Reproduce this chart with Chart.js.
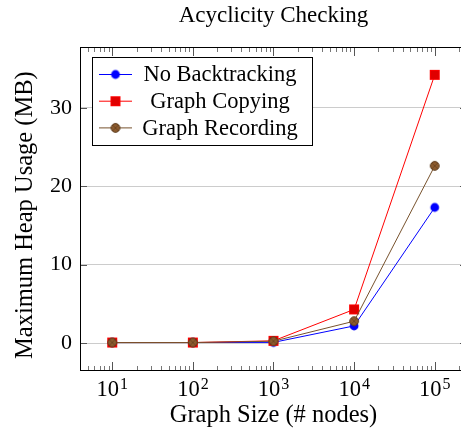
<!DOCTYPE html>
<html>
<head>
<meta charset="utf-8">
<script src="https://cdn.jsdelivr.net/npm/chart.js@4.4.0/dist/chart.umd.min.js"></script>
<style>
html, body { margin: 0; padding: 0; overflow: hidden; background: #fff; }
canvas { display: block; }
</style>
</head>
<body>
<canvas id="heapChart" width="472" height="432"></canvas>
<script>
// ---- data ----
const graphSizes = [10, 100, 1000, 10000, 100000];
const noBacktracking = [0.08, 0.08, 0.1, 2.2, 17.3];
const graphCopying = [0.08, 0.08, 0.3, 4.3, 34.2];
const graphRecording = [0.08, 0.08, 0.25, 2.8, 22.6];
const seriesNames = ["No Backtracking", "Graph Copying", "Graph Recording"];
const xTickValues = [10, 100, 1000, 10000, 100000];
const xTickBase = "10";
const xTickExponents = ["1", "2", "3", "4", "5"];
const yTickValues = [0, 10, 20, 30];

const FONT = "'Liberation Serif', 'Times New Roman', serif";
Chart.defaults.color = "#000";
Chart.defaults.font.family = FONT;
Chart.defaults.font.size = 22;

// small canvases used as marker images (plot + legend)
function makeMarker(kind) {
    const c = document.createElement("canvas");
    c.width = 12;
    c.height = 12;
    const g = c.getContext("2d");
    g.lineWidth = 1;
    if (kind === "circle") {
        g.fillStyle = "#0000ff";
        g.beginPath();
        g.arc(6, 6, 4.4, 0, Math.PI * 2);
        g.fill();
    } else if (kind === "square") {
        g.fillStyle = "#e00000";
        g.strokeStyle = "#ff0000";
        g.fillRect(2, 2, 8, 8);
        g.strokeRect(1.5, 1.5, 9, 9);
    } else {
        g.fillStyle = "#8c5b2e";
        g.strokeStyle = "#5a391b";
        g.beginPath();
        g.arc(6, 6, 4.4, 0, Math.PI * 2);
        g.fill();
        g.stroke();
        g.beginPath();
        g.moveTo(3, 3); g.lineTo(9, 9);
        g.moveTo(9, 3); g.lineTo(3, 9);
        g.lineWidth = 0.6;
        g.stroke();
    }
    return c;
}

function toPoints(values) {
    return graphSizes.map((x, i) => ({ x: x, y: values[i] }));
}

// frame + inward tick marks, pgfplots style
const framePlugin = {
    id: "frame",
    beforeDatasetsDraw(chart) {
        const { ctx, chartArea: a, scales } = chart;
        const xs = scales.x, ys = scales.y;
        ctx.save();
        ctx.lineWidth = 1;

        // minor log ticks
        ctx.strokeStyle = "#777";
        ctx.beginPath();
        for (let d = 0; d <= 5; d++) {
            for (let m = 2; m <= 9; m++) {
                const v = m * Math.pow(10, d);
                if (v < xs.min || v > xs.max) continue;
                const px = Math.round(xs.getPixelForValue(v)) + 0.5;
                ctx.moveTo(px, a.bottom); ctx.lineTo(px, a.bottom - 4);
                ctx.moveTo(px, a.top); ctx.lineTo(px, a.top + 4);
            }
        }
        ctx.stroke();

        // major ticks
        ctx.strokeStyle = "#555";
        ctx.beginPath();
        xTickValues.forEach(v => {
            const px = Math.round(xs.getPixelForValue(v)) + 0.5;
            ctx.moveTo(px, a.bottom); ctx.lineTo(px, a.bottom - 8);
            ctx.moveTo(px, a.top); ctx.lineTo(px, a.top + 8);
        });
        yTickValues.forEach(v => {
            const py = Math.round(ys.getPixelForValue(v)) + 0.5;
            ctx.moveTo(a.left, py); ctx.lineTo(a.left + 7, py);
            ctx.moveTo(a.right, py); ctx.lineTo(a.right - 7, py);
        });
        ctx.stroke();

        // box
        ctx.strokeStyle = "#000";
        ctx.strokeRect(Math.round(a.left) + 0.5, Math.round(a.top) - 0.5,
            Math.round(a.right - a.left), Math.round(a.bottom - a.top) + 1);
        ctx.restore();
    }
};

// x tick labels as 10 with a raised exponent, placed by the log scale
const powerLabelPlugin = {
    id: "powerLabels",
    afterDraw(chart) {
        const { ctx, chartArea: a, scales } = chart;
        ctx.save();
        ctx.fillStyle = "#000";
        ctx.textBaseline = "alphabetic";
        ctx.textAlign = "left";
        xTickValues.forEach((v, i) => {
            const px = scales.x.getPixelForValue(v);
            ctx.font = "22.5px " + FONT;
            const bw = ctx.measureText(xTickBase).width;
            ctx.font = "16px " + FONT;
            const ew = ctx.measureText(xTickExponents[i]).width;
            const x0 = px - (bw + 1 + ew) / 2;
            ctx.font = "22.5px " + FONT;
            ctx.fillText(xTickBase, x0, a.bottom + 26);
            ctx.font = "16px " + FONT;
            ctx.fillText(xTickExponents[i], x0 + bw + 1, a.bottom + 19);
        });
        ctx.restore();
    }
};

// boxed legend with line + marker samples
const boxLegendPlugin = {
    id: "boxLegend",
    afterDatasetsDraw(chart) {
        const { ctx, chartArea: a } = chart;
        const x0 = Math.round(a.left) + 12;
        const y0 = Math.round(a.top) + 9;
        const w = 220, h = 88;
        ctx.save();
        ctx.fillStyle = "#fff";
        ctx.fillRect(x0, y0, w, h);
        ctx.strokeStyle = "#000";
        ctx.lineWidth = 1;
        ctx.strokeRect(x0 + 0.5, y0 + 0.5, w, h);
        seriesNames.forEach((name, i) => {
            const ds = chart.data.datasets.find(d => d.label === name);
            const cy = y0 + 17.5 + i * 26.7;
            ctx.strokeStyle = ds.borderColor;
            ctx.beginPath();
            ctx.moveTo(x0 + 7, cy);
            ctx.lineTo(x0 + 40, cy);
            ctx.stroke();
            const img = ds.pointStyle;
            ctx.drawImage(img, x0 + 23.5 - img.width / 2, cy - img.height / 2);
            ctx.fillStyle = "#000";
            ctx.font = "22.5px " + FONT;
            ctx.textAlign = "center";
            ctx.textBaseline = "middle";
            ctx.fillText(name, x0 + 128, cy + 1);
        });
        ctx.restore();
    }
};

new Chart(document.getElementById("heapChart").getContext("2d"), {
    type: "line",
    data: {
        datasets: [
            {
                label: seriesNames[0],
                data: toPoints(noBacktracking),
                borderColor: "#0000ff",
                borderWidth: 1,
                pointStyle: makeMarker("circle"),
                tension: 0,
                order: 2
            },
            {
                label: seriesNames[1],
                data: toPoints(graphCopying),
                borderColor: "#ff0000",
                borderWidth: 1,
                pointStyle: makeMarker("square"),
                tension: 0,
                order: 1
            },
            {
                label: seriesNames[2],
                data: toPoints(graphRecording),
                borderColor: "#77522d",
                borderWidth: 1,
                pointStyle: makeMarker("otimes"),
                tension: 0,
                order: 0
            }
        ]
    },
    options: {
        responsive: false,
        animation: false,
        events: [],
        layout: { padding: { left: 0, right: 2.5, top: 0, bottom: 0 } },
        plugins: {
            legend: { display: false },
            tooltip: { enabled: false },
            title: {
                display: true,
                text: "Acyclicity Checking",
                fullSize: false,
                color: "#000",
                font: { size: 23, weight: "normal" },
                padding: { top: 2, bottom: 18.4 }
            }
        },
        scales: {
            x: {
                type: "logarithmic",
                min: Math.pow(10, 0.6),
                max: Math.pow(10, 5.4),
                grid: { display: false, drawTicks: false },
                border: { display: false },
                afterBuildTicks: s => { s.ticks = xTickValues.map(v => ({ value: v, major: true })); },
                afterFit: s => { s.height = 62; },
                ticks: { display: false },
                title: {
                    display: true,
                    text: "Graph Size (# nodes)",
                    font: { size: 24.5 },
                    padding: { top: 0, bottom: 2 }
                }
            },
            y: {
                min: -3.42,
                max: 37.62,
                grid: { color: "#cccccc", lineWidth: 1, drawTicks: false },
                border: { display: false },
                afterBuildTicks: s => { s.ticks = yTickValues.map(v => ({ value: v })); },
                afterFit: s => { s.width = 80; },
                ticks: { padding: 8 },
                title: {
                    display: true,
                    text: "Maximum Heap Usage (MB)\u00a0\u00a0",
                    font: { size: 24.5 },
                    padding: { top: 11, bottom: 0 }
                }
            }
        }
    },
    plugins: [framePlugin, powerLabelPlugin, boxLegendPlugin]
});
</script>
</body>
</html>
